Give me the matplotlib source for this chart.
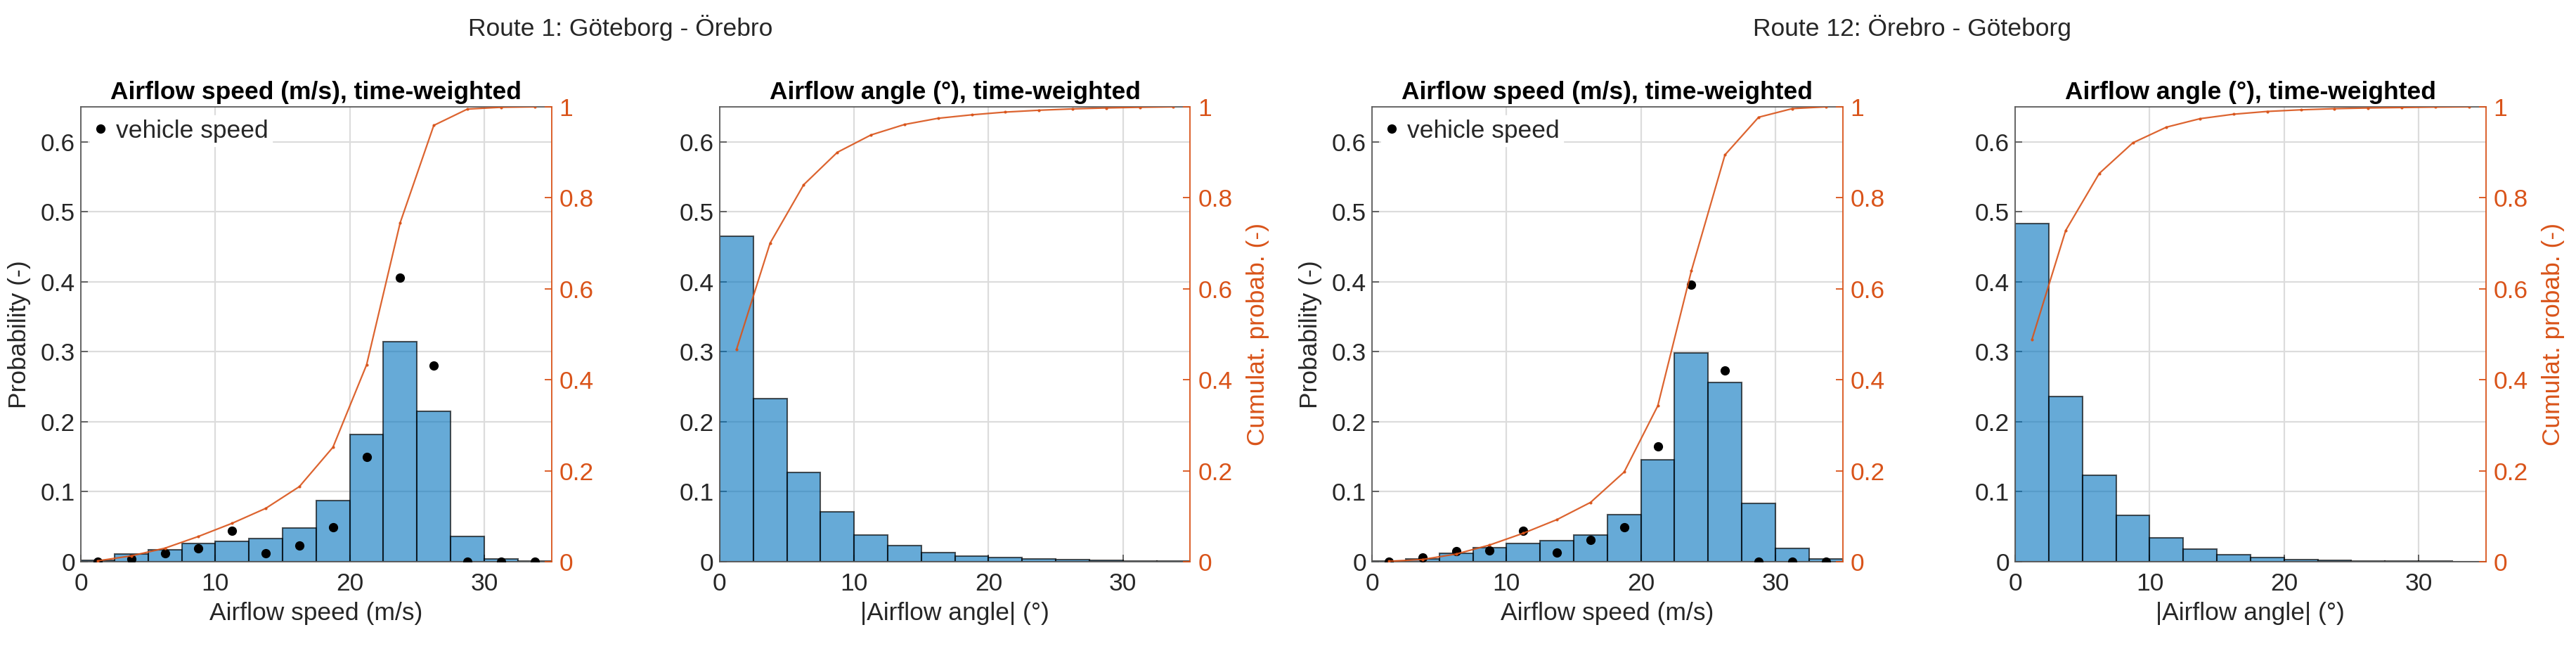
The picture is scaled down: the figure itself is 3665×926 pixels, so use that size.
import numpy as np
import matplotlib.pyplot as plt

plt.rcParams['font.family'] = ['Liberation Sans', 'DejaVu Sans']
plt.rcParams['font.size'] = 25.5

# histogram bins (m/s or degrees), width 2.5
bin_edges = [0, 2.5, 5, 7.5, 10, 12.5, 15, 17.5, 20, 22.5, 25, 27.5, 30, 32.5, 35]

# Route 1: Göteborg - Örebro
r1_speed_prob = [0.002, 0.011, 0.017, 0.026, 0.029, 0.033, 0.048, 0.087,
                 0.182, 0.314, 0.215, 0.036, 0.004, 0.001]
r1_vehicle_prob = [0.0, 0.004, 0.012, 0.019, 0.044, 0.012, 0.023, 0.049,
                   0.150, 0.406, 0.280, 0.0, 0.0, 0.0]
r1_angle_prob = [0.465, 0.233, 0.128, 0.071, 0.038, 0.023, 0.0136, 0.0076,
                 0.006, 0.004, 0.003, 0.002, 0.0015, 0.001]

# Route 12: Örebro - Göteborg
r12_speed_prob = [0.001, 0.004, 0.012, 0.020, 0.026, 0.030, 0.038, 0.067,
                  0.146, 0.298, 0.256, 0.083, 0.019, 0.004]
r12_vehicle_prob = [0.0, 0.0065, 0.015, 0.016, 0.044, 0.013, 0.031, 0.049,
                    0.165, 0.396, 0.273, 0.0, 0.0, 0.0]
r12_angle_prob = [0.483, 0.236, 0.124, 0.0665, 0.034, 0.0184, 0.0097, 0.006,
                  0.0035, 0.0025, 0.0015, 0.001, 0.001, 0.0005]

route_titles = ['Route 1: Göteborg - Örebro', 'Route 12: Örebro - Göteborg']

BLUE = (0, 0.447, 0.741, 0.6)
ORANGE = '#D95319'
TXT = '#262626'
AXC = '#5a5a5a'

edges = np.array(bin_edges)
lefts = edges[:-1]
widths = np.diff(edges)
centers = lefts + widths / 2

fig = plt.figure(figsize=(36.66, 9.26), dpi=100)

lefts_fig = [0.0314, 0.2793, 0.5325, 0.7821]
ax_w = 0.1826
ax_b = 0.1371
ax_h = 0.6988


def draw_panel(pos_left, probs, title, xlabel, vehicle=None, left_label=False, right_label=False):
    ax = fig.add_axes([pos_left, ax_b, ax_w, ax_h])
    ax.bar(lefts, probs, width=widths, align='edge', color=BLUE,
           edgecolor=(0, 0, 0, 0.65), linewidth=1.5, zorder=2)
    if vehicle is not None:
        ax.plot(centers, vehicle, 'o', color='black', markersize=8.5,
                label='vehicle speed', zorder=3)
        leg = ax.legend(loc='upper left', frameon=True, fancybox=False,
                        handlelength=0.6, handletextpad=0.3, borderpad=0.15,
                        borderaxespad=0.35, fontsize=25.5)
        leg.get_frame().set_facecolor('white')
        leg.get_frame().set_edgecolor('white')
        leg.get_frame().set_alpha(1)
        for t in leg.get_texts():
            t.set_color(TXT)
    ax.set_xlim(0, 35)
    ax.set_ylim(0, 0.65)
    ax.set_xticks([0, 10, 20, 30])
    ax.set_yticks([0, 0.1, 0.2, 0.3, 0.4, 0.5, 0.6])
    ax.set_yticklabels(['0', '0.1', '0.2', '0.3', '0.4', '0.5', '0.6'])
    ax.grid(True, color='#dcdcdc', linewidth=1.6, zorder=0)
    ax.set_axisbelow(True)
    ax.tick_params(direction='in', length=7, width=1.3, colors=AXC,
                   labelcolor=TXT, labelsize=25.5)
    ax.tick_params(axis='x', pad=11)
    ax.tick_params(axis='y', pad=6)
    for s in ['left', 'top', 'bottom']:
        ax.spines[s].set_color(AXC)
        ax.spines[s].set_linewidth(1.3)
    ax.spines['right'].set_visible(False)
    ax.set_title(title, fontweight='bold', color='black', pad=8, fontsize=25.5)
    ax.set_xlabel(xlabel, color=TXT, labelpad=6)
    if left_label:
        ax.set_ylabel('Probability (-)', color=TXT, labelpad=10)

    cum = np.cumsum(probs) / np.sum(probs)
    ax2 = ax.twinx()
    ax2.plot(centers, cum, '-', color=ORANGE, linewidth=1.6, marker='.',
             markersize=4, alpha=0.9)
    ax2.set_ylim(0, 1.0)
    ax2.set_yticks([0, 0.2, 0.4, 0.6, 0.8, 1.0])
    ax2.set_yticklabels(['0', '0.2', '0.4', '0.6', '0.8', '1'])
    ax2.tick_params(direction='in', length=7, width=1.3, colors=ORANGE,
                    labelsize=25.5, pad=8)
    for s in ['left', 'top', 'bottom']:
        ax2.spines[s].set_visible(False)
    ax2.spines['right'].set_color(ORANGE)
    ax2.spines['right'].set_linewidth(1.3)
    if right_label:
        ax2.set_ylabel('Cumulat. probab. (-)', color=ORANGE, labelpad=14)
    return ax


draw_panel(lefts_fig[0], r1_speed_prob, 'Airflow speed (m/s), time-weighted',
           'Airflow speed (m/s)', vehicle=r1_vehicle_prob, left_label=True)
draw_panel(lefts_fig[1], r1_angle_prob, 'Airflow angle (°), time-weighted',
           '|Airflow angle| (°)', right_label=True)
draw_panel(lefts_fig[2], r12_speed_prob, 'Airflow speed (m/s), time-weighted',
           'Airflow speed (m/s)', vehicle=r12_vehicle_prob, left_label=True)
draw_panel(lefts_fig[3], r12_angle_prob, 'Airflow angle (°), time-weighted',
           '|Airflow angle| (°)', right_label=True)

fig.text(0.2409, 0.957, route_titles[0], ha='center', va='center', color=TXT, fontsize=25.5)
fig.text(0.7420, 0.957, route_titles[1], ha='center', va='center', color=TXT, fontsize=25.5)

fig.savefig('out.png', dpi=100)
